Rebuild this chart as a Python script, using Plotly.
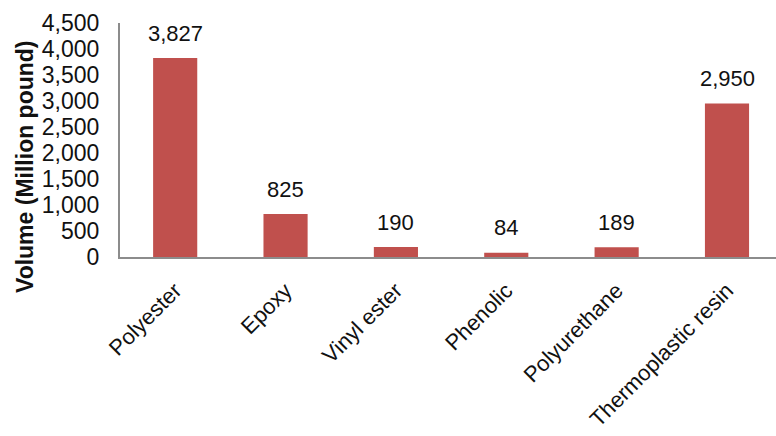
import plotly.graph_objects as go

# Resin consumption by type
categories = ["Polyester", "Epoxy", "Vinyl ester", "Phenolic", "Polyurethane", "Thermoplastic resin"]
volumes = [3827, 825, 190, 84, 189, 2950]
y_ticks = [0, 500, 1000, 1500, 2000, 2500, 3000, 3500, 4000, 4500]

FONT = "Arial, Liberation Sans, sans-serif"
BAR_COLOR = "#C0504D"
AXIS_COLOR = "#8C8C8C"

fig = go.Figure(
    go.Bar(
        x=list(range(len(categories))),
        y=volumes,
        width=0.4,
        marker=dict(color=BAR_COLOR, line=dict(width=0)),
        hoverinfo="skip",
    )
)

# value labels above each bar
for i, v in enumerate(volumes):
    fig.add_annotation(
        x=i, y=v, text=f"{v:,}", showarrow=False,
        yanchor="middle", yshift=25,
        font=dict(family=FONT, size=22, color="#111111"),
    )

# rotated axis title
fig.add_annotation(
    x=0, xref="paper", y=0.5, yref="paper",
    xanchor="center", yanchor="middle",
    text="<b>Volume (Million pound)</b>", textangle=-90, showarrow=False,
    xshift=-95, yshift=-27,
    font=dict(family=FONT, size=23, color="#111111"),
)

fig.update_layout(
    width=776, height=436,
    margin=dict(l=120, r=0, t=23, b=179),
    paper_bgcolor="white", plot_bgcolor="white",
    showlegend=False,
    font=dict(family=FONT, size=22, color="#111111"),
    xaxis=dict(
        range=[-0.5, 5.444],
        tickmode="array",
        tickvals=list(range(len(categories))),
        ticktext=categories,
        tickangle=-45,
        showgrid=False, zeroline=False,
        showline=True, linecolor=AXIS_COLOR, linewidth=2,
        ticks="", ticklabelstandoff=10,
        tickfont=dict(family=FONT, size=22, color="#111111"),
    ),
    yaxis=dict(
        range=[0, 4500],
        tickmode="array",
        tickvals=y_ticks,
        ticktext=[f"{t:,}" for t in y_ticks],
        showgrid=False, zeroline=False,
        showline=True, linecolor=AXIS_COLOR, linewidth=2,
        ticks="", ticklabelstandoff=14,
        tickfont=dict(family=FONT, size=23, color="#111111"),
    ),
)

fig.write_html("out.html")
